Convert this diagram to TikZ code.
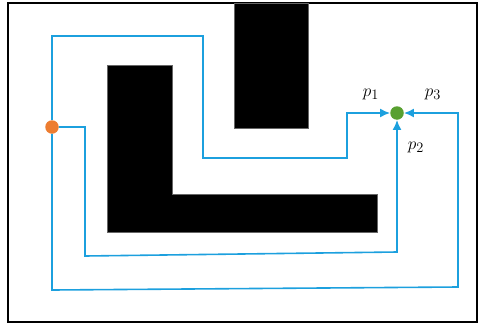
\documentclass[tikz,border=0pt]{standalone}
\usetikzlibrary{arrows.meta}
\definecolor{pathblue}{RGB}{28,160,222}
\definecolor{dotorange}{RGB}{237,125,49}
\definecolor{dotgreen}{RGB}{88,160,48}
\begin{document}
\begin{tikzpicture}[x=1pt,y=-1pt,
  wall/.style={fill=black,draw=black!60,line width=0.6pt},
  route/.style={draw=pathblue,line width=1.6pt},
  routearrow/.style={route,-{Latex[length=10pt,width=9pt]}},
  dot/.style={circle,inner sep=0pt,minimum size=13.5pt},
  lbl/.style={font=\fontsize{19}{22}\selectfont}]
\useasboundingbox (0,0) rectangle (478,324);
\draw[line width=1.5pt] (8,3) rectangle (477,322);
% obstacles
\draw[wall] (234,3) rectangle (308,128);
\draw[wall] (107,65) -- (172,65) -- (172,194) -- (377,194) -- (377,232) -- (107,232) -- cycle;
% start and goal
\node[dot,fill=dotorange] (s) at (52,127) {};
\node[dot,fill=dotgreen] (g) at (397,113) {};
% routes
\coordinate (a1) at (52,36);
\coordinate (a2) at (203,36);
\coordinate (a3) at (203,158);
\coordinate (a4) at (347,158);
\coordinate (a5) at (347,113);
\draw[routearrow] (s) -- (a1) -- (a2) -- (a3) -- (a4) -- (a5) -- (g);
\coordinate (b1) at (85,127);
\coordinate (b2) at (85,256);
\coordinate (b3) at (397,252);
\draw[routearrow] (s) -- (b1) -- (b2) -- (b3) -- (g);
\coordinate (c1) at (52,290);
\coordinate (c2) at (458,287);
\coordinate (c3) at (458,113);
\draw[routearrow] (s) -- (c1) -- (c2) -- (c3) -- (g);
% labels
\node[lbl] (l1) at (371,94) {$p_1$};
\node[lbl] (l3) at (433,94) {$p_3$};
\node[lbl] (l2) at (416,147) {$p_2$};
\end{tikzpicture}
\end{document}
